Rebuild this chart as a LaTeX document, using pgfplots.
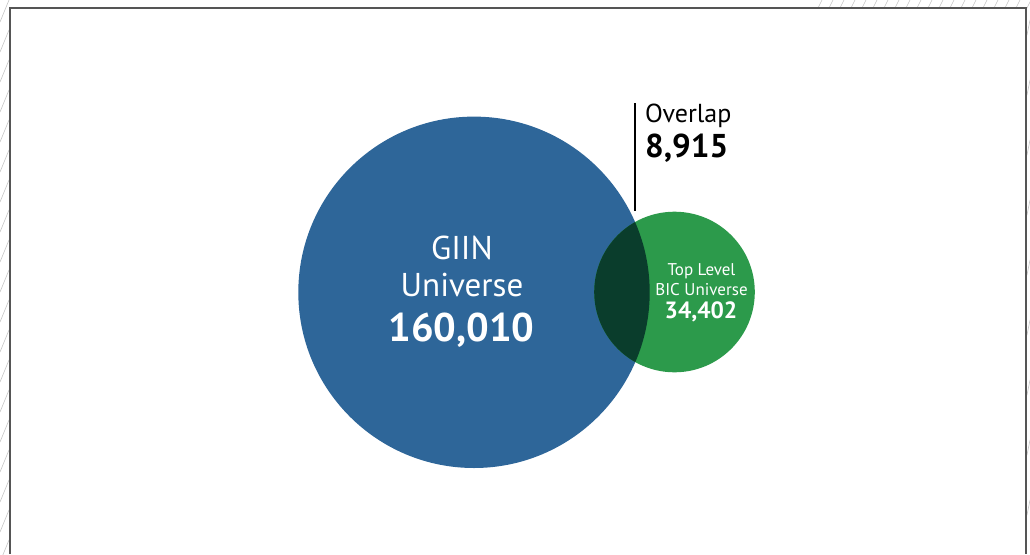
\documentclass[border=0pt]{standalone}
\usepackage{pgfplots}
\pgfplotsset{compat=1.18}
\usepackage{fontspec}
\setmainfont{PT Sans}
\definecolor{giin}{HTML}{2E6699}
\definecolor{bic}{HTML}{2C9A4B}
\definecolor{lens}{HTML}{0A3D2C}
\definecolor{frame}{HTML}{555555}
\definecolor{hatch}{HTML}{C4C4C4}
% sets: centre x, centre y, radius (radius ~ 0.44*sqrt(count))
% GIIN Universe 160010 ; Top Level BIC Universe 34402 ; overlap 8915
\begin{document}
\begin{tikzpicture}
\begin{axis}[
  scale only axis, width=1030pt, height=554pt,
  xmin=0, xmax=1030, ymin=0, ymax=554, y dir=reverse,
  hide axis, clip=true]
% decoration: hatching and frame
\pgfplotsinvokeforeach{0,30,...,540}{\draw[hatch, line width=0.6pt] (axis cs:0,{#1+22}) -- (axis cs:9,#1);}
\pgfplotsinvokeforeach{818,829,...,1025}{\draw[hatch, line width=0.6pt] (axis cs:#1,8) -- (axis cs:{#1+4},0);}
\pgfplotsinvokeforeach{20,80,...,530}{\draw[hatch, line width=0.6pt] (axis cs:1027,{#1+15}) -- (axis cs:1030,#1);}
\draw[frame, line width=2pt] (axis cs:10,554) -- (axis cs:10,8) -- (axis cs:1026,8) -- (axis cs:1026,554);
% circles
\fill[giin] (axis cs:474,292.3) circle[radius=175.7];
\fill[bic] (axis cs:674.5,292) circle[radius=80.3];
\begin{scope}
\clip (axis cs:674.5,292) circle[radius=80.3];
\fill[lens] (axis cs:474,292.3) circle[radius=175.7];
\end{scope}
% leader
\draw[black, line width=2pt] (axis cs:635,103) -- (axis cs:635,211);
% labels
\node[anchor=base, white, font=\fontsize{33}{33}\selectfont, inner sep=0pt] at (axis cs:462,259) {GIIN};
\node[anchor=base, white, font=\fontsize{33}{33}\selectfont, inner sep=0pt] at (axis cs:462,296) {Universe};
\node[anchor=base, white, font=\fontsize{40}{40}\selectfont\bfseries, inner sep=0pt] at (axis cs:461.5,341) {160,010};
\node[anchor=base, white, font=\fontsize{17}{17}\selectfont, inner sep=0pt] at (axis cs:701.5,275) {Top Level};
\node[anchor=base, white, font=\fontsize{17}{17}\selectfont, inner sep=0pt] at (axis cs:701.5,295) {BIC Universe};
\node[anchor=base, white, font=\fontsize{23.5}{23.5}\selectfont\bfseries, inner sep=0pt] at (axis cs:701,318) {34,402};
\node[anchor=base west, black, font=\fontsize{26}{26}\selectfont, inner sep=0pt] at (axis cs:645,122) {Overlap};
\node[anchor=base west, black, font=\fontsize{33}{33}\selectfont\bfseries, inner sep=0pt] at (axis cs:645,157) {8,915};
\end{axis}
\end{tikzpicture}
\end{document}
